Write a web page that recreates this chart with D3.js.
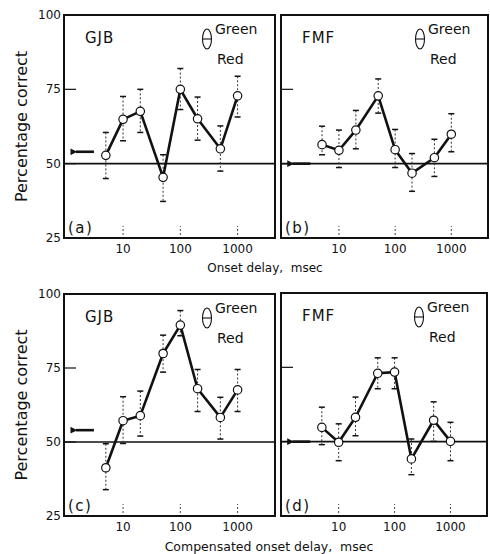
<!DOCTYPE html>
<html>
<head>
<meta charset="utf-8">
<script src="https://cdn.jsdelivr.net/npm/d3@7"></script>
<style>
  body { margin: 0; background: #fff; }
  svg { display: block; }
  text { font-family: "DejaVu Sans", sans-serif; fill: #111; white-space: pre; }
</style>
</head>
<body>
<svg id="chart" width="490" height="554"></svg>
<script>
// onset delays, msec
const delays = [5, 10, 20, 50, 100, 200, 500, 1000];

// percentage correct, with upper / lower error bar ends
const meanA = [52.8, 64.9, 67.6, 45.4, 75.0, 65.1, 55.0, 72.8];
const upA   = [60.5, 72.6, 75.0, 53.0, 82.0, 72.4, 62.7, 79.4];
const lowA  = [45.0, 57.7, 60.5, 37.3, 68.2, 57.9, 47.5, 65.7];

const meanB = [56.4, 54.5, 61.3, 72.8, 54.7, 46.8, 52.0, 59.9];
const upB   = [62.6, 61.3, 67.9, 78.5, 61.5, 53.4, 58.2, 66.8];
const lowB  = [53.0, 48.7, 55.0, 67.0, 48.7, 40.7, 45.7, 54.0];

const meanC = [41.3, 57.2, 58.9, 79.9, 89.5, 68.0, 58.3, 67.6];
const upC   = [49.4, 65.3, 67.2, 86.1, 94.4, 74.5, 65.1, 74.5];
const lowC  = [33.9, 49.5, 52.0, 73.6, 85.9, 60.3, 51.0, 60.3];

const meanD = [54.8, 49.8, 58.2, 73.0, 73.4, 44.2, 57.2, 50.1];
const upD   = [61.6, 56.0, 65.0, 78.2, 78.2, 50.9, 63.4, 56.5];
const lowD  = [49.0, 43.6, 52.0, 67.8, 67.8, 38.9, 50.1, 43.6];

const subjects = ["GJB", "FMF", "GJB", "FMF"];
const panelTags = ["(a)", "(b)", "(c)", "(d)"];
const chance = [54, 50, 54, 50];
const arrowSpan = [3.1, 1.5];

const xTicks = [10, 100, 1000];
const yTicks = [100, 75, 50, 25];
const xTitles = ["Onset delay,  msec", "Compensated onset delay,  msec"];

const svg = d3.select("#chart");

const boxes = [
  {x0: 64, x1: 275, y0: 15, y1: 238},
  {x0: 281, x1: 488, y0: 15, y1: 238},
  {x0: 64, x1: 275, y0: 294, y1: 516},
  {x0: 281, x1: 487, y0: 293, y1: 516}
];

const series = [
  [meanA, upA, lowA],
  [meanB, upB, lowB],
  [meanC, upC, lowC],
  [meanD, upD, lowD]
];

svg.append("defs").append("marker")
    .attr("id", "head")
    .attr("viewBox", "0 0 10 10")
    .attr("refX", 2).attr("refY", 5)
    .attr("markerWidth", 3).attr("markerHeight", 2.6)
    .attr("orient", "auto")
  .append("path")
    .attr("d", "M0,5 L10,0 L10,10 Z")
    .attr("fill", "#111");

boxes.forEach(function(b, i) {
    const x = d3.scaleLog().domain([0.93, 4500]).range([b.x0, b.x1]);
    const y = d3.scaleLinear().domain([25, 100]).range([b.y1, b.y0]);
    const g = svg.append("g");
    const [mean, up, low] = series[i];
    const pts = delays.map((d, k) => ({d: d, m: mean[k], hi: up[k], lo: low[k]}));

    // chance line
    g.append("line")
        .attr("x1", b.x0).attr("x2", b.x1)
        .attr("y1", y(50)).attr("y2", y(50))
        .attr("stroke", "#111").attr("stroke-width", 1.6);

    // inner ticks
    g.selectAll(".yt").data([75, 50]).enter().append("line")
        .attr("x1", b.x0).attr("x2", b.x0 + 12)
        .attr("y1", d => y(d)).attr("y2", d => y(d))
        .attr("stroke", "#111").attr("stroke-width", 1.2);

    g.selectAll(".xt").data(xTicks).enter().append("line")
        .attr("x1", d => x(d)).attr("x2", d => x(d))
        .attr("y1", b.y1 - 3).attr("y2", b.y1 - 12)
        .attr("stroke", "#444").attr("stroke-width", 1)
        .attr("stroke-dasharray", "2,2");

    g.selectAll(".xl").data(xTicks).enter().append("text")
        .attr("x", d => x(d)).attr("y", b.y1 + 15)
        .attr("text-anchor", "middle")
        .style("font-size", "12px")
        .text(d => d);

    if (i % 2 === 0) {
        g.selectAll(".yl").data(yTicks).enter().append("text")
            .attr("x", b.x0 - 3).attr("y", d => y(d) + 4)
            .attr("text-anchor", "end")
            .style("font-size", "12px")
            .text(d => d);
    }

    // arrow at the chance estimate
    g.append("line")
        .attr("x1", x(arrowSpan[0])).attr("x2", x(arrowSpan[1]))
        .attr("y1", y(chance[i])).attr("y2", y(chance[i]))
        .attr("stroke", "#111").attr("stroke-width", 2.6)
        .attr("marker-end", "url(#head)");

    // error bars
    const eb = g.selectAll(".eb").data(pts).enter().append("g");
    eb.append("line")
        .attr("x1", d => x(d.d)).attr("x2", d => x(d.d))
        .attr("y1", d => y(d.hi)).attr("y2", d => y(d.lo))
        .attr("stroke", "#333").attr("stroke-width", 1)
        .attr("stroke-dasharray", "2,2");
    eb.selectAll("line.cap").data(d => [d.hi, d.lo].map(v => ({d: d.d, v: v})))
        .enter().append("line")
        .attr("class", "cap")
        .attr("x1", d => x(d.d) - 3).attr("x2", d => x(d.d) + 3)
        .attr("y1", d => y(d.v)).attr("y2", d => y(d.v))
        .attr("stroke", "#111").attr("stroke-width", 1.5);

    const line = d3.line().x(d => x(d.d)).y(d => y(d.m));
    g.append("path")
        .datum(pts)
        .attr("d", line)
        .attr("fill", "none")
        .attr("stroke", "#111").attr("stroke-width", 2.6)
        .attr("stroke-linejoin", "round");

    g.selectAll(".pt").data(pts).enter().append("circle")
        .attr("cx", d => x(d.d)).attr("cy", d => y(d.m))
        .attr("r", 4.2)
        .attr("fill", "#fff")
        .attr("stroke", "#111").attr("stroke-width", 1.2);

    // frame
    g.append("rect")
        .attr("x", b.x0).attr("y", b.y0)
        .attr("width", b.x1 - b.x0).attr("height", b.y1 - b.y0)
        .attr("fill", "none")
        .attr("stroke", "#111").attr("stroke-width", 2);

    g.append("text")
        .attr("x", b.x0 + 21).attr("y", b.y0 + 28)
        .style("font-size", "15px").style("letter-spacing", "1px")
        .text(subjects[i]);

    g.append("text")
        .attr("x", b.x0 + 4).attr("y", b.y1 - 5)
        .style("font-size", "15px").style("letter-spacing", "1.5px")
        .text(panelTags[i]);

    // legend
    const lx = b.x1 - 60, ly = b.y0;
    g.append("ellipse")
        .attr("cx", lx - 8).attr("cy", ly + 24)
        .attr("rx", 4.5).attr("ry", 10)
        .attr("fill", "none").attr("stroke", "#111").attr("stroke-width", 1.1);
    g.append("line")
        .attr("x1", lx - 12.5).attr("x2", lx - 3.5)
        .attr("y1", ly + 24).attr("y2", ly + 24)
        .attr("stroke", "#111").attr("stroke-width", 1.1);
    g.append("text")
        .attr("x", lx).attr("y", ly + 19)
        .style("font-size", "14px")
        .text("Green");
    g.append("text")
        .attr("x", lx + 2).attr("y", ly + 49)
        .style("font-size", "14px")
        .text("Red");
});

// axis titles
[0, 1].forEach(function(r) {
    const b = boxes[r * 2];
    svg.append("text")
        .attr("transform", `translate(27,${(b.y0 + b.y1) / 2}) rotate(-90)`)
        .attr("text-anchor", "middle")
        .style("font-size", "16px")
        .text("Percentage correct");
});

svg.append("text")
    .attr("x", 265).attr("y", 272)
    .attr("text-anchor", "middle")
    .style("font-size", "12px")
    .text(xTitles[0]);

svg.append("text")
    .attr("x", 269).attr("y", 551)
    .attr("text-anchor", "middle")
    .style("font-size", "12.5px")
    .text(xTitles[1]);
</script>
</body>
</html>
